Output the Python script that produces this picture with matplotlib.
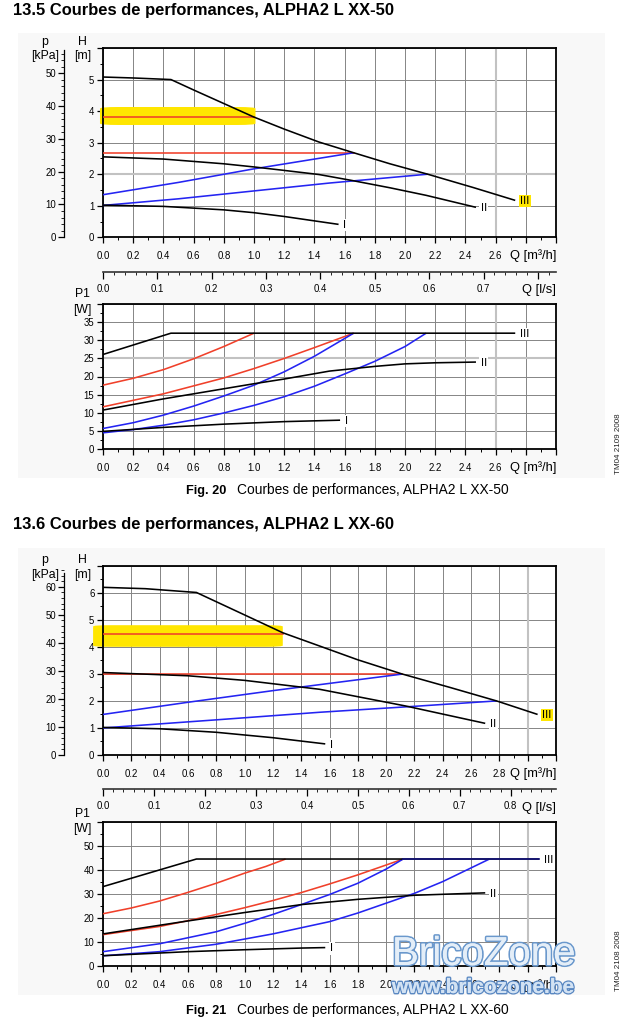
import numpy as np
import matplotlib.pyplot as plt
from matplotlib.ticker import MultipleLocator
from matplotlib.patches import Rectangle, FancyBboxPatch
import matplotlib.patheffects as pe

plt.rcParams['font.family'] = ['Liberation Sans', 'DejaVu Sans']

W, H = 629, 1031
RED = '#f0402a'
BLUE = '#2424f2'
YEL = '#ffe600'
TICK_FS = 6.9

# ---------------- ALPHA2 L XX-50 : head H [m] vs Q [m3/h]
h50_q3 = [0, 0.2, 0.45, 0.6, 0.8, 1.0, 1.2, 1.43, 1.66, 1.9, 2.15, 2.45, 2.73]
h50_h3 = [5.08, 5.05, 5.0, 4.67, 4.24, 3.81, 3.43, 3.02, 2.68, 2.33, 2.0, 1.58, 1.17]
h50_q2 = [0, 0.4, 0.8, 1.0, 1.2, 1.43, 1.65, 1.9, 2.14, 2.47]
h50_h2 = [2.55, 2.48, 2.33, 2.23, 2.12, 1.99, 1.8, 1.57, 1.33, 0.95]
h50_q1 = [0, 0.4, 0.8, 1.0, 1.2, 1.43, 1.56]
h50_h1 = [1.02, 0.98, 0.87, 0.78, 0.66, 0.5, 0.41]
h50_red = [(3.81, 1.0), (2.68, 1.66)]          # constant pressure level, end flow
h50_bq_hi = [0, 0.5, 1.0, 1.66]
h50_bh_hi = [1.35, 1.74, 2.17, 2.68]
h50_bq_lo = [0, 0.5, 1.0, 1.5, 2.15]
h50_bh_lo = [1.01, 1.22, 1.47, 1.72, 2.0]

# ---------------- ALPHA2 L XX-50 : power P1 [W]
p50_q3 = [0, 0.45, 2.73]
p50_p3 = [26.1, 32.0, 32.0]
p50_q2 = [0, 0.4, 0.8, 1.0, 1.2, 1.5, 1.8, 2.0, 2.2, 2.47]
p50_p2 = [10.7, 13.8, 16.6, 18.0, 19.3, 21.5, 22.8, 23.5, 23.8, 24.0]
p50_q1 = [0, 0.4, 0.8, 1.2, 1.57]
p50_p1 = [4.8, 5.9, 6.8, 7.5, 7.9]
p50_rq_hi = [0, 0.2, 0.4, 0.6, 0.8, 1.0]
p50_rp_hi = [17.6, 19.5, 21.9, 24.9, 28.3, 32.0]
p50_rq_lo = [0, 0.4, 0.8, 1.0, 1.2, 1.4, 1.66]
p50_rp_lo = [11.6, 15.2, 19.6, 22.2, 25.0, 28.0, 32.0]
p50_bq_hi = [0, 0.2, 0.4, 0.6, 0.8, 1.0, 1.2, 1.4, 1.66]
p50_bp_hi = [5.6, 7.2, 9.3, 11.8, 14.6, 17.6, 21.3, 25.6, 32.0]
p50_bq_lo = [0, 0.2, 0.4, 0.6, 0.8, 1.0, 1.2, 1.4, 1.6, 1.8, 2.0, 2.14]
p50_bp_lo = [4.4, 5.3, 6.5, 8.0, 9.9, 12.0, 14.4, 17.3, 20.7, 24.2, 28.3, 32.0]

# ---------------- ALPHA2 L XX-60 : head
h60_q3 = [0, 0.3, 0.66, 1.0, 1.27, 1.53, 1.8, 2.11, 2.45, 2.78, 3.07]
h60_h3 = [6.2, 6.15, 6.01, 5.18, 4.52, 4.03, 3.52, 3.0, 2.5, 2.0, 1.5]
h60_q2 = [0, 0.6, 1.0, 1.53, 2.14, 2.7]
h60_h2 = [3.05, 2.93, 2.76, 2.43, 1.81, 1.17]
h60_q1 = [0, 0.4, 0.8, 1.2, 1.57]
h60_h1 = [1.02, 0.97, 0.84, 0.64, 0.41]
h60_red = [(4.46, 1.27), (2.99, 2.11)]
h60_bq_hi = [0, 0.6, 1.2, 2.11]
h60_bh_hi = [1.5, 1.95, 2.38, 2.99]
h60_bq_lo = [0, 0.8, 1.53, 2.2, 2.78]
h60_bh_lo = [1.0, 1.3, 1.58, 1.8, 2.0]

# ---------------- ALPHA2 L XX-60 : power
p60_q3 = [0, 0.66, 3.08]
p60_p3 = [33.2, 44.7, 44.7]
p60_q2 = [0, 0.6, 1.0, 1.4, 1.8, 2.2, 2.6, 2.7]
p60_p2 = [13.5, 18.9, 22.4, 25.7, 27.9, 29.6, 30.4, 30.6]
p60_q1 = [0, 0.6, 1.0, 1.4, 1.57]
p60_p1 = [4.4, 6.1, 6.9, 7.6, 7.8]
p60_rq_hi = [0, 0.2, 0.4, 0.6, 0.8, 1.0, 1.15, 1.29]
p60_rp_hi = [21.9, 24.3, 27.2, 30.8, 34.6, 38.8, 41.6, 44.7]
p60_rq_lo = [0, 0.4, 0.6, 0.8, 1.0, 1.2, 1.4, 1.6, 1.8, 2.0, 2.12]
p60_rp_lo = [13.2, 16.6, 19.0, 21.6, 24.4, 27.4, 30.7, 34.3, 38.1, 42.2, 44.7]
p60_bq_hi = [0, 0.4, 0.8, 1.0, 1.2, 1.4, 1.6, 1.8, 2.0, 2.12]
p60_bp_hi = [6.1, 9.4, 14.4, 17.9, 21.6, 25.7, 29.9, 34.6, 40.5, 44.7]
p60_bq_lo = [0, 0.4, 0.8, 1.2, 1.6, 1.8, 2.0, 2.2, 2.4, 2.73]
p60_bp_lo = [4.4, 6.1, 9.2, 13.5, 18.6, 22.2, 26.3, 30.4, 35.3, 44.7]

fig = plt.figure(figsize=(W / 100, H / 100), dpi=100)


def px_axes(x0, y0, x1, y1):
    return fig.add_axes([x0 / W, 1 - y1 / H, (x1 - x0) / W, (y1 - y0) / H])


def ftext(x, y, s, **kw):
    return fig.text(x / W, 1 - y / H, s, **kw)


def box(ax, qmax, qlab, ymax, ystep, ylab, yminor, thick_x=(), thick_y=()):
    ax.set_xlim(0, qmax)
    ax.set_ylim(0, ymax)
    xt = np.round(np.arange(0, qmax + 1e-6, 0.2), 1)
    ax.set_xticks(xt)
    ax.set_xticklabels([f'{v:.1f}' if v <= qlab + 1e-6 else '' for v in xt])
    ax.xaxis.set_minor_locator(MultipleLocator(0.1))
    yt = np.arange(0, ymax + 1e-6, ystep)
    ax.set_yticks(yt)
    ax.set_yticklabels([f'{v:g}' if v <= ylab + 1e-6 else '' for v in yt])
    ax.yaxis.set_minor_locator(MultipleLocator(yminor))
    ax.grid(True, which='major', color='#858585', lw=0.7)
    ax.set_axisbelow(True)
    for v in thick_x:
        ax.axvline(v, color='#c2c2c2', lw=1.5, zorder=0.8)
    for v in thick_y:
        ax.axhline(v, color='#c2c2c2', lw=1.5, zorder=0.8)
    for s in ax.spines.values():
        s.set_linewidth(1.3)
    ax.tick_params(which='major', direction='out', length=4.2, width=0.9,
                   labelsize=TICK_FS)
    ax.tick_params(which='minor', direction='out', length=2.2, width=0.7)
    ax.tick_params(axis='x', which='major', pad=6.0)
    ax.tick_params(axis='y', which='major', pad=2.0)


def p_axis(x, y0, y1, pmax, ptop):
    ax = px_axes(x, y0, x + 1, y1)
    ax.set_ylim(0, pmax)
    ax.patch.set_visible(False)
    for k in ['top', 'right', 'bottom']:
        ax.spines[k].set_visible(False)
    ax.spines['left'].set_bounds(0, ptop)
    ax.spines['left'].set_linewidth(0.9)
    ax.set_xticks([])
    ax.yaxis.set_major_locator(MultipleLocator(10))
    ax.yaxis.set_minor_locator(MultipleLocator(2))
    ax.tick_params(which='major', direction='out', length=4.2, width=0.9,
                   labelsize=TICK_FS, pad=1.2)
    ax.tick_params(which='minor', direction='out', length=2.0, width=0.6)
    ax.set_ylim(0, pmax)


def ls_axis(y, qmax, lab):
    ax = px_axes(103, y - 1, 556, y)
    ax.set_xlim(0, qmax / 3.6)
    ax.patch.set_visible(False)
    for k in ['top', 'right', 'left']:
        ax.spines[k].set_visible(False)
    ax.spines['bottom'].set_linewidth(1.2)
    ax.spines['bottom'].set_color('#333333')
    ax.set_yticks([])
    xt = np.round(np.arange(0, qmax / 3.6, 0.1), 1)
    ax.set_xticks(xt)
    ax.set_xticklabels([f'{v:.1f}' if v <= lab + 1e-6 else '' for v in xt])
    ax.xaxis.set_minor_locator(MultipleLocator(0.02))
    ax.tick_params(which='major', direction='out', length=5.0, width=0.9,
                   labelsize=TICK_FS, pad=3.6)
    ax.tick_params(which='minor', direction='out', length=2.2, width=0.6)


def curve(ax, q, v, c, z=3):
    ax.plot(q, v, color=c, lw=1.15, zorder=z, solid_capstyle='butt')


def tag(ax, q, v, s, hl=False):
    fc = YEL if hl else 'white'
    ax.annotate(s, (q, v), xytext=(3.5, -0.5), textcoords='offset points',
                ha='left', va='center', fontsize=8.2, zorder=6,
                bbox=dict(boxstyle='square,pad=0.12', fc=fc, ec='none'))


def highlight(ax, level, qend, left, right, below, above):
    ax.add_patch(FancyBboxPatch((-left, level - below), qend + left + right,
                                below + above,
                                boxstyle='round,pad=0,rounding_size=0.12',
                                fc=YEL, ec='none', zorder=1.5, clip_on=False,
                                mutation_aspect=0.4))


def head_plot(top, qmax, qlab, hmax, pmax, ptop, q3, h3, q2, h2, q1, h1, reds,
              bqh, bhh, bql, bhl, hl_pad, thick_x, thick_y):
    ax = px_axes(103, top, 556, top + 189.3)
    box(ax, qmax, qlab, hmax, 1, hmax - 1, 0.5, thick_x, thick_y)
    p_axis(63.5, top, top + 189.3, pmax, ptop)
    (lev_hi, end_hi), (lev_lo, end_lo) = reds
    highlight(ax, lev_hi, end_hi, *hl_pad)
    ax.plot([0, end_hi], [lev_hi, lev_hi], color=RED, lw=1.15, zorder=3)
    ax.plot([0, end_lo], [lev_lo, lev_lo], color=RED, lw=1.15, zorder=3)
    curve(ax, bqh, bhh, BLUE)
    curve(ax, bql, bhl, BLUE)
    curve(ax, q3, h3, 'black', 4)
    curve(ax, q2, h2, 'black', 4)
    curve(ax, q1, h1, 'black', 4)
    tag(ax, q3[-1], h3[-1], 'III', hl=True)
    tag(ax, q2[-1], h2[-1], 'II')
    tag(ax, q1[-1], h1[-1], 'I')
    return ax


def power_plot(top, bottom, qmax, qlab, pmax, pstep, plab, pminor,
               q3, p3, q2, p2, q1, p1, rqh, rph, rql, rpl, bqh, bph, bql, bpl,
               thick_x, thick_y, navy=False):
    ax = px_axes(103, top, 556, bottom)
    box(ax, qmax, qlab, pmax, pstep, plab, pminor, thick_x, thick_y)
    curve(ax, rqh, rph, RED)
    curve(ax, rql, rpl, RED)
    curve(ax, bqh, bph, BLUE)
    curve(ax, bql, bpl, BLUE)
    curve(ax, q3, p3, 'black', 4)
    curve(ax, q2, p2, 'black', 4)
    curve(ax, q1, p1, 'black', 4)
    if navy:
        ax.plot([bqh[-1], q3[-1]], [p3[-1], p3[-1]], color='#15157a', lw=1.25,
                zorder=5)
    tag(ax, q3[-1], p3[-1], 'III')
    tag(ax, q2[-1], p2[-1], 'II')
    tag(ax, q1[-1], p1[-1], 'I')
    return ax


# light background panels
for y0, y1 in [(33, 478), (548, 995)]:
    fig.patches.append(Rectangle((18 / W, 1 - y1 / H), (605 - 18) / W,
                                 (y1 - y0) / H, transform=fig.transFigure,
                                 fc='#f8f8f8', ec='none', zorder=-5))

# ===================== block 13.5 (XX-50)
ftext(13, 15.5, '13.5 Courbes de performances, ALPHA2 L XX-50',
      fontsize=11.9, fontweight='bold', va='baseline')
head_plot(48, 3.0, 2.6, 6, 57.7, 57.0, h50_q3, h50_h3, h50_q2, h50_h2,
          h50_q1, h50_h1, h50_red, h50_bq_hi, h50_bh_hi, h50_bq_lo, h50_bh_lo,
          (0.02, 0.01, 0.25, 0.32), [2.6], [2])
ftext(45, 45, 'p', fontsize=8.8, ha='center', va='baseline')
ftext(45, 59, '[kPa]', fontsize=8.8, ha='center', va='baseline')
ftext(82.5, 45, 'H', fontsize=8.8, ha='center', va='baseline')
ftext(82.5, 59, '[m]', fontsize=8.8, ha='center', va='baseline')
ftext(556, 259.5, 'Q [m³/h]', fontsize=9.3, ha='right', va='baseline')
ls_axis(271.7, 3.0, 0.7)
ftext(556, 293.5, 'Q [l/s]', fontsize=9.3, ha='right', va='baseline')
power_plot(304.3, 448.7, 3.0, 2.6, 40, 5, 35, 2.5,
           p50_q3, p50_p3, p50_q2, p50_p2, p50_q1, p50_p1,
           p50_rq_hi, p50_rp_hi, p50_rq_lo, p50_rp_lo,
           p50_bq_hi, p50_bp_hi, p50_bq_lo, p50_bp_lo, [2.6], [25])
ftext(82, 297.3, 'P1', fontsize=8.8, ha='center', va='baseline')
ftext(82, 313, '[W]', fontsize=8.8, ha='center', va='baseline')
ftext(556, 471.5, 'Q [m³/h]', fontsize=9.3, ha='right', va='baseline')
ftext(186, 494, 'Fig. 20', fontsize=9.2, fontweight='bold', va='baseline')
ftext(237, 494, 'Courbes de performances, ALPHA2 L XX-50', fontsize=9.9,
      va='baseline')
ftext(619, 444, 'TM04 2109 2008', fontsize=5.8, rotation=90, ha='center',
      va='center', color='#222222')

# ===================== block 13.6 (XX-60)
ftext(13, 529.5, '13.6 Courbes de performances, ALPHA2 L XX-60',
      fontsize=11.9, fontweight='bold', va='baseline')
head_plot(565.7, 3.2, 2.8, 7, 67.5, 65.0, h60_q3, h60_h3, h60_q2, h60_h2,
          h60_q1, h60_h1, h60_red, h60_bq_hi, h60_bh_hi, h60_bq_lo, h60_bh_lo,
          (0.07, 0.0, 0.46, 0.34), [3.0], [])
ftext(45, 563.3, 'p', fontsize=8.8, ha='center', va='baseline')
ftext(45, 577.7, '[kPa]', fontsize=8.8, ha='center', va='baseline')
ftext(82.5, 563.3, 'H', fontsize=8.8, ha='center', va='baseline')
ftext(82.5, 577.7, '[m]', fontsize=8.8, ha='center', va='baseline')
ftext(556, 777.5, 'Q [m³/h]', fontsize=9.3, ha='right', va='baseline')
ls_axis(789.3, 3.2, 0.8)
ftext(556, 811, 'Q [l/s]', fontsize=9.3, ha='right', va='baseline')
power_plot(822.3, 966.3, 3.2, 2.8, 60, 10, 50, 5,
           p60_q3, p60_p3, p60_q2, p60_p2, p60_q1, p60_p1,
           p60_rq_hi, p60_rp_hi, p60_rq_lo, p60_rp_lo,
           p60_bq_hi, p60_bp_hi, p60_bq_lo, p60_bp_lo, [3.0], [], navy=True)
ftext(82, 816.7, 'P1', fontsize=8.8, ha='center', va='baseline')
ftext(82, 831.7, '[W]', fontsize=8.8, ha='center', va='baseline')
ftext(556, 988.5, 'Q [m³/h]', fontsize=9.3, ha='right', va='baseline')
ftext(186, 1014, 'Fig. 21', fontsize=9.2, fontweight='bold', va='baseline')
ftext(237, 1014, 'Courbes de performances, ALPHA2 L XX-60', fontsize=9.9,
      va='baseline')
ftext(619, 961, 'TM04 2108 2008', fontsize=5.8, rotation=90, ha='center',
      va='center', color='#222222')

# watermark
t1 = ftext(392, 965, 'BricoZone', fontsize=29, va='baseline', color='#e4eef8',
           zorder=20)
t1.set_path_effects([pe.withStroke(linewidth=2.4, foreground='#6a98cc'),
                     pe.Normal()])
t2 = ftext(392, 993, 'www.bricozone.be', fontsize=15, fontweight='bold',
           va='baseline', color='#d2e2f3', zorder=20)
t2.set_path_effects([pe.withStroke(linewidth=2.0, foreground='#5a88c2'),
                     pe.Normal()])

fig.savefig('out.png', dpi=100)
